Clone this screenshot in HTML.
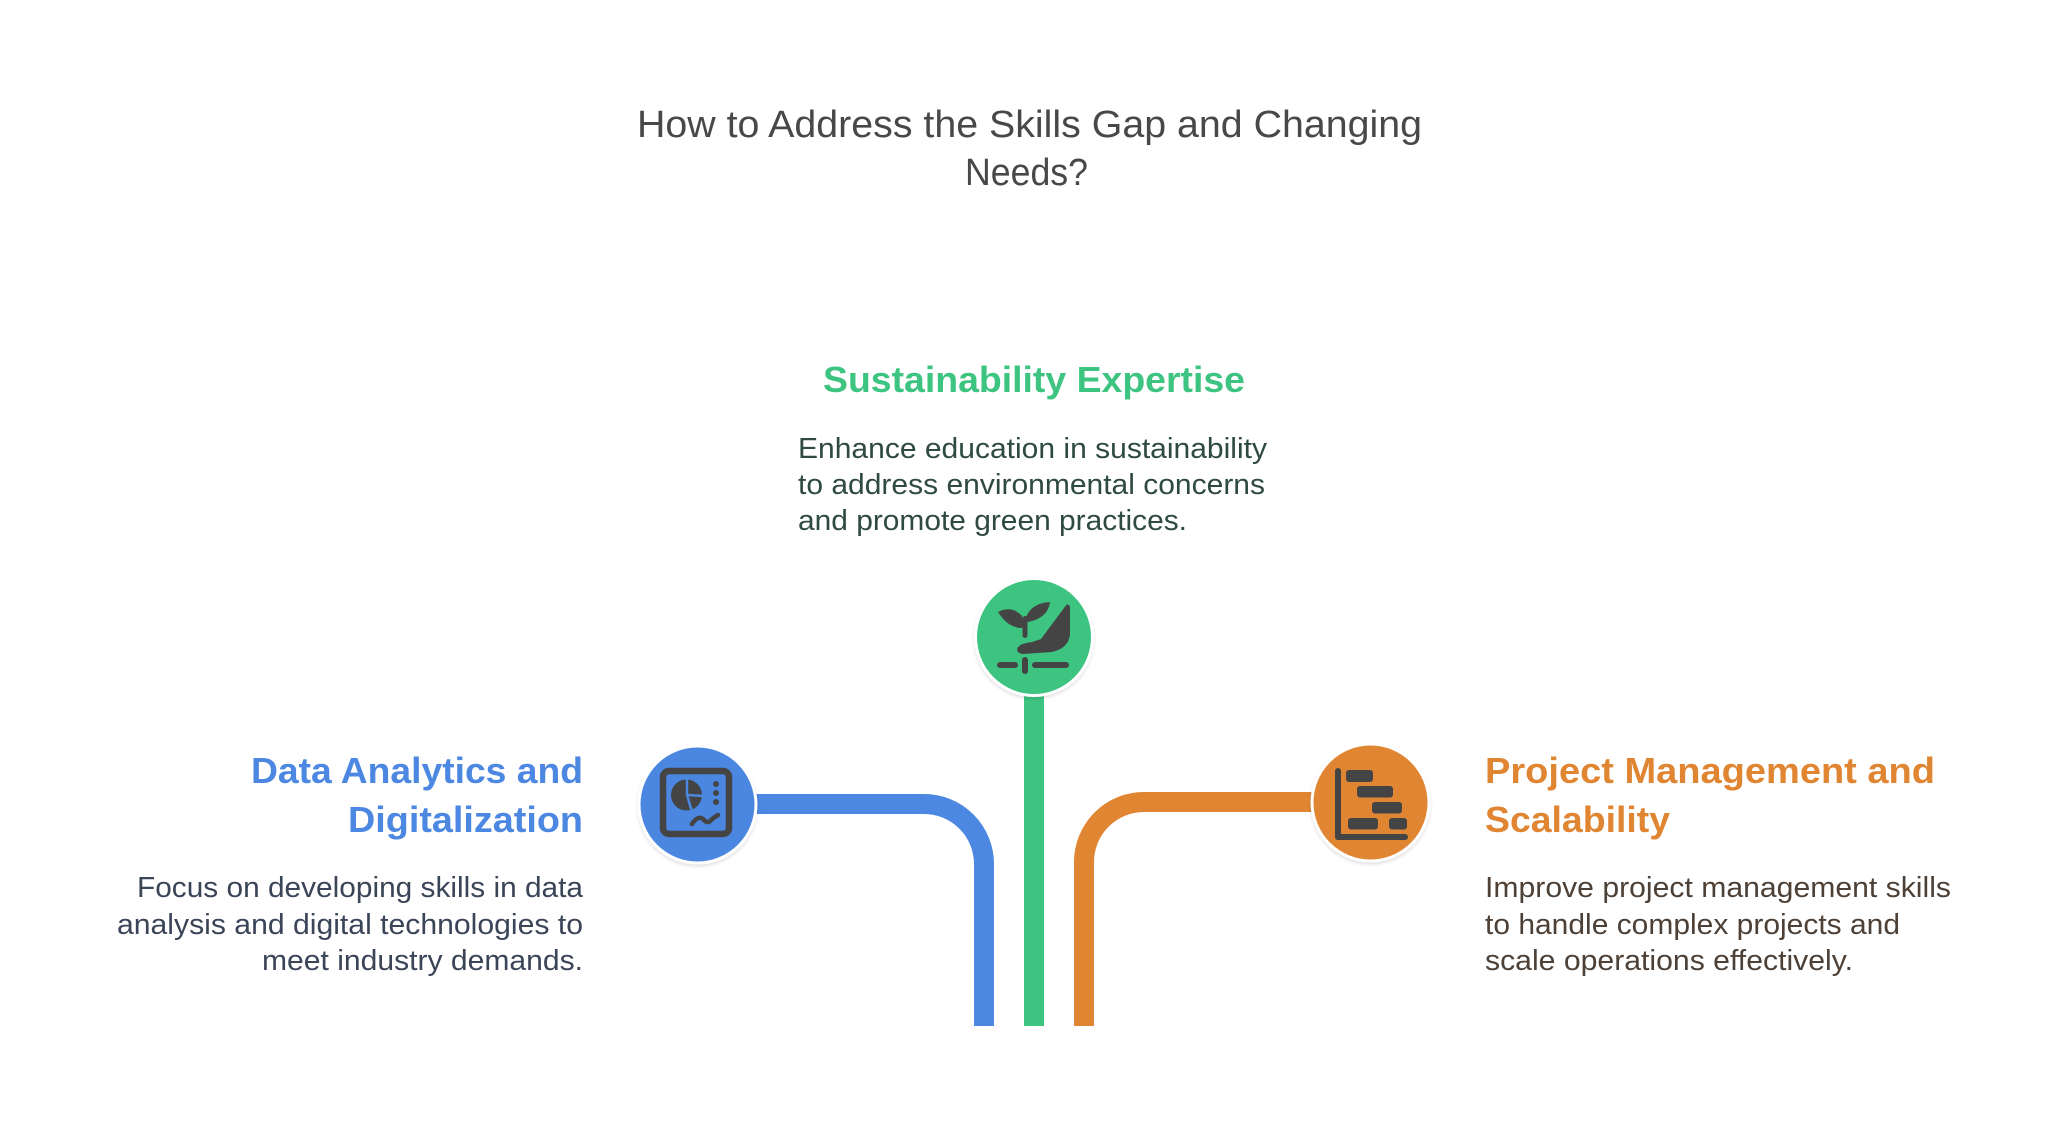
<!DOCTYPE html>
<html>
<head>
<meta charset="utf-8">
<style>
  html, body { margin: 0; padding: 0; background: #ffffff; }
  body { width: 2068px; height: 1144px; overflow: hidden; }
  svg { display: block; }
  text { font-family: "Liberation Sans", "DejaVu Sans", sans-serif; }
  .title { font-size: 38px; fill: #484848; }
  .head { font-size: 36px; font-weight: bold; }
  .body { font-size: 28.5px; }
</style>
</head>
<body>
<svg width="2068" height="1144" viewBox="0 0 2068 1144" xmlns="http://www.w3.org/2000/svg">
  <defs>
    <filter id="sh" x="-20%" y="-20%" width="140%" height="150%">
      <feDropShadow dx="0" dy="2" stdDeviation="1.5" flood-color="#000" flood-opacity="0.12"/>
    </filter>
  </defs>

  <!-- Title -->
  <text class="title" x="637" y="137" textLength="785" lengthAdjust="spacingAndGlyphs">How to Address the Skills Gap and Changing</text>
  <text class="title" x="965" y="185" textLength="123" lengthAdjust="spacingAndGlyphs">Needs?</text>

  <!-- Connectors -->
  <path d="M740,804 L924,804 A60,60 0 0 1 984,864 L984,1026" fill="none" stroke="#4C87E1" stroke-width="20"/>
  <path d="M1034,690 L1034,1026" fill="none" stroke="#3DC481" stroke-width="20"/>
  <path d="M1330,802 L1144,802 A60,60 0 0 0 1084,862 L1084,1026" fill="none" stroke="#E08532" stroke-width="20"/>

  <!-- Green circle + icon -->
  <circle cx="1034" cy="637" r="58.5" fill="#3DC481" stroke="#ffffff" stroke-width="3" filter="url(#sh)"/>
  <g fill="#444444">
    <path d="M998,612 Q1012,605 1022,616 Q1024,624 1022,628 Q1008,628 998,612 Z"/>
    <path d="M1025,620 Q1030,603 1050,602 Q1048,618 1028,622 Z"/>
    <rect x="1022.5" y="616" width="5" height="22" rx="2.5"/>
    <path d="M1067,604 L1070,606 L1070,634 Q1069,648 1052,652 L1023,654 Q1015,653 1018,647 Q1022,643 1032,642 L1041,639 Z"/>
  </g>
  <g stroke="#444444" stroke-width="6" stroke-linecap="round" fill="none">
    <line x1="1000" y1="665" x2="1015" y2="665"/>
    <line x1="1035" y1="665" x2="1066" y2="665"/>
    <line x1="1025" y1="660" x2="1025" y2="671"/>
  </g>

  <!-- Blue circle + icon -->
  <circle cx="697.5" cy="804.5" r="58.5" fill="#4C87E1" stroke="#ffffff" stroke-width="3" filter="url(#sh)"/>
  <rect x="663" y="771" width="66" height="63" rx="6" fill="none" stroke="#444444" stroke-width="6.5"/>
  <circle cx="686.5" cy="795" r="15.5" fill="#444444"/>
  <g stroke="#4C87E1" stroke-width="2.5" fill="none">
    <line x1="687" y1="778" x2="687" y2="795"/>
    <line x1="687" y1="795" x2="704" y2="796"/>
    <line x1="687" y1="795" x2="692" y2="812"/>
  </g>
  <circle cx="716" cy="784" r="3" fill="#444444"/>
  <circle cx="716" cy="793" r="3" fill="#444444"/>
  <circle cx="716" cy="802" r="3" fill="#444444"/>
  <path d="M692,824 Q698,815 703,819 Q708,825 712,819 L718,815" fill="none" stroke="#444444" stroke-width="4.5" stroke-linecap="round" stroke-linejoin="round"/>

  <!-- Orange circle + icon -->
  <circle cx="1370.5" cy="802.5" r="58.5" fill="#E08532" stroke="#ffffff" stroke-width="3" filter="url(#sh)"/>
  <g fill="#444444">
    <rect x="1335" y="768" width="6" height="72" rx="3"/>
    <rect x="1335" y="834" width="73" height="6" rx="3"/>
    <rect x="1346" y="770" width="27" height="12" rx="3"/>
    <rect x="1357" y="786" width="36" height="11.5" rx="3"/>
    <rect x="1372" y="802" width="30" height="11.5" rx="3"/>
    <rect x="1348" y="818" width="30" height="11.5" rx="3"/>
    <rect x="1389" y="818" width="18" height="11.5" rx="3"/>
  </g>

  <!-- Green text -->
  <text class="head" fill="#3DC481" x="823" y="392" textLength="422" lengthAdjust="spacingAndGlyphs">Sustainability Expertise</text>
  <g class="body" fill="#2f4a40">
    <text class="body" x="798" y="458" textLength="469" lengthAdjust="spacingAndGlyphs">Enhance education in sustainability</text>
    <text class="body" x="798" y="494" textLength="467" lengthAdjust="spacingAndGlyphs">to address environmental concerns</text>
    <text class="body" x="798" y="530" textLength="389" lengthAdjust="spacingAndGlyphs">and promote green practices.</text>
  </g>

  <!-- Blue text (right aligned at 583) -->
  <text class="head" fill="#4C87E1" x="251" y="783" textLength="332" lengthAdjust="spacingAndGlyphs">Data Analytics and</text>
  <text class="head" fill="#4C87E1" x="348" y="832" textLength="235" lengthAdjust="spacingAndGlyphs">Digitalization</text>
  <g fill="#3b4558">
    <text class="body" x="137" y="897" textLength="446" lengthAdjust="spacingAndGlyphs">Focus on developing skills in data</text>
    <text class="body" x="117" y="934" textLength="466" lengthAdjust="spacingAndGlyphs">analysis and digital technologies to</text>
    <text class="body" x="262" y="970" textLength="321" lengthAdjust="spacingAndGlyphs">meet industry demands.</text>
  </g>

  <!-- Orange text -->
  <text class="head" fill="#E08532" x="1485" y="783" textLength="450" lengthAdjust="spacingAndGlyphs">Project Management and</text>
  <text class="head" fill="#E08532" x="1485" y="832" textLength="185" lengthAdjust="spacingAndGlyphs">Scalability</text>
  <g fill="#4d4036">
    <text class="body" x="1485" y="897" textLength="466" lengthAdjust="spacingAndGlyphs">Improve project management skills</text>
    <text class="body" x="1485" y="934" textLength="415" lengthAdjust="spacingAndGlyphs">to handle complex projects and</text>
    <text class="body" x="1485" y="970" textLength="368" lengthAdjust="spacingAndGlyphs">scale operations effectively.</text>
  </g>
</svg>
</body>
</html>
